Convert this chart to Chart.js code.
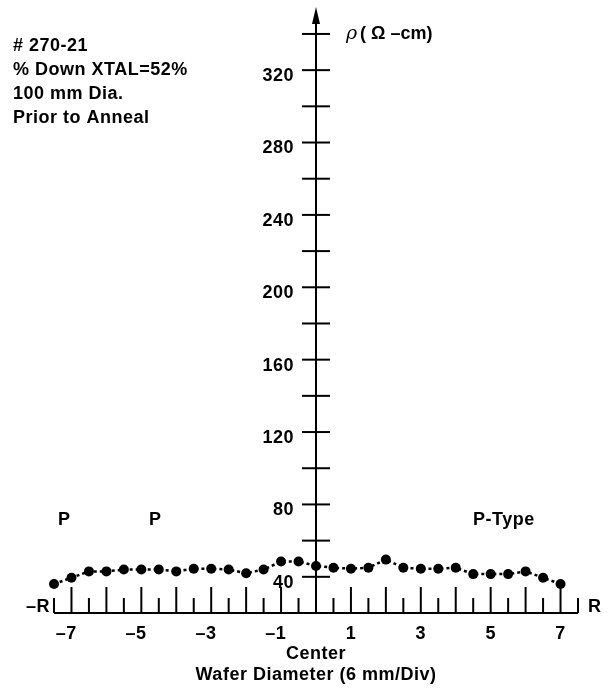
<!DOCTYPE html>
<html>
<head>
<meta charset="utf-8">
<script src="https://cdn.jsdelivr.net/npm/chart.js@4"></script>
<style>
  body { margin: 0; background: #fff; }
  #wrap { width: 609px; height: 689px; position: relative; }
</style>
</head>
<body>
<div id="wrap"><canvas id="myChart"></canvas></div>
<script>
// radial position along the wafer (divisions, 6 mm each)
let positions = [-7.5, -7, -6.5, -6, -5.5, -5, -4.5, -4, -3.5, -3, -2.5, -2, -1.5, -1, -0.5,
                 0, 0.5, 1, 1.5, 2, 2.5, 3, 3.5, 4, 4.5, 5, 5.5, 6, 6.5, 7];
// resistivity, ohm-cm
let rho = [36, 39.5, 43, 43, 44, 44, 44, 43, 44.5, 44.5, 44, 42, 44, 48.5, 48.5,
           46, 45, 44.5, 45, 49.5, 45, 44.5, 44.5, 45, 41.5, 41.5, 41.5, 43, 39.5, 36];

let yTicks = [40, 60, 80, 100, 120, 140, 160, 180, 200, 220, 240, 260, 280, 300, 320, 340];
let yLabels = [40, 80, 120, 160, 200, 240, 280, 320];
let xTicks = [-7.5, -7, -6.5, -6, -5.5, -5, -4.5, -4, -3.5, -3, -2.5, -2, -1.5, -1, -0.5,
              0.5, 1, 1.5, 2, 2.5, 3, 3.5, 4, 4.5, 5, 5.5, 6, 6.5, 7, 7.5];
let xLabels = [-7, -5, -3, -1, 1, 3, 5, 7];

let notes = ["# 270-21", "% Down XTAL=52%", "100 mm Dia.", "Prior to Anneal"];

const FONT = "bold 18px 'Liberation Sans', Arial, sans-serif";

const axesPlugin = {
  id: "axes",
  beforeDatasetsDraw(chart) {
    const ctx = chart.ctx;
    const xs = chart.scales.x, ys = chart.scales.y;
    const x0 = xs.getPixelForValue(0);
    const yb = ys.getPixelForValue(ys.min);
    const top = chart.chartArea.top;

    ctx.save();
    ctx.strokeStyle = "#000";
    ctx.fillStyle = "#000";
    ctx.lineCap = "butt";

    // vertical axis with arrow
    ctx.lineWidth = 2;
    ctx.beginPath();
    ctx.moveTo(x0, yb);
    ctx.lineTo(x0, top + 14);
    ctx.stroke();
    ctx.beginPath();
    ctx.moveTo(x0, top + 2);
    ctx.lineTo(x0 - 4, top + 19);
    ctx.lineTo(x0 + 4, top + 19);
    ctx.closePath();
    ctx.fill();

    // y ticks cross the axis
    yTicks.forEach(v => {
      const py = ys.getPixelForValue(v);
      ctx.beginPath();
      ctx.moveTo(x0 - 14, py);
      ctx.lineTo(x0 + 14, py);
      ctx.stroke();
    });

    ctx.font = FONT;
    ctx.letterSpacing = "0.5px";
    ctx.textAlign = "right";
    ctx.textBaseline = "middle";
    yLabels.forEach(v => {
      ctx.fillText(String(v), x0 - 22, ys.getPixelForValue(v) + 6);
    });

    // horizontal axis
    ctx.lineWidth = 2;
    ctx.beginPath();
    ctx.moveTo(xs.getPixelForValue(xs.min), yb);
    ctx.lineTo(xs.getPixelForValue(xs.max), yb);
    ctx.stroke();

    xTicks.forEach(v => {
      const px = xs.getPixelForValue(v);
      const len = Number.isInteger(v) ? 26 : 15;
      ctx.beginPath();
      ctx.moveTo(px, yb);
      ctx.lineTo(px, yb - len);
      ctx.stroke();
    });

    ctx.textAlign = "right";
    ctx.textBaseline = "middle";
    const dw = ctx.measureText("7").width;
    xLabels.forEach(v => {
      const txt = v < 0 ? "\u2013" + Math.abs(v) : String(v);
      ctx.fillText(txt, xs.getPixelForValue(v) + dw / 2, yb + 21);
    });

    ctx.textAlign = "center";
    ctx.fillText("Center", x0, yb + 41);
    ctx.fillText("Wafer Diameter (6 mm/Div)", x0, yb + 62);

    ctx.textAlign = "right";
    ctx.fillText("\u2013R", xs.getPixelForValue(xs.min) - 4, yb - 6);
    ctx.textAlign = "left";
    ctx.fillText("R", xs.getPixelForValue(xs.max) + 10, yb - 6);

    // type markers
    ctx.fillText("P", 58, 520);
    ctx.fillText("P", 149, 520);
    ctx.fillText("P-Type", 473, 520);

    // sample notes
    notes.forEach((t, i) => ctx.fillText(t, 13, 46 + i * 24));

    // y axis title
    ctx.letterSpacing = "0px";
    ctx.font = "italic 19px 'DejaVu Serif', serif";
    ctx.fillText("\u03c1", x0 + 30, 34);
    ctx.font = FONT;
    ctx.fillText("( \u03a9 \u2013cm)", x0 + 44, 34);

    ctx.restore();
  }
};

new Chart(document.getElementById("myChart"), {
  type: "line",
  data: {
    datasets: [{
      data: positions.map((p, i) => ({ x: p, y: rho[i] })),
      borderColor: "#000",
      borderWidth: 2.5,
      borderDash: [3, 3],
      pointRadius: 5,
      pointBackgroundColor: "#000",
      pointBorderColor: "#000",
      pointBorderWidth: 0,
      tension: 0,
      clip: false
    }]
  },
  options: {
    responsive: true,
    maintainAspectRatio: false,
    animation: false,
    layout: { padding: { left: 54, right: 31, top: 5, bottom: 76 } },
    plugins: { legend: { display: false }, tooltip: { enabled: false } },
    scales: {
      x: { type: "linear", min: -7.5, max: 7.5, display: false },
      y: { type: "linear", min: 20, max: 356, display: false }
    }
  },
  plugins: [axesPlugin]
});
</script>
</body>
</html>
